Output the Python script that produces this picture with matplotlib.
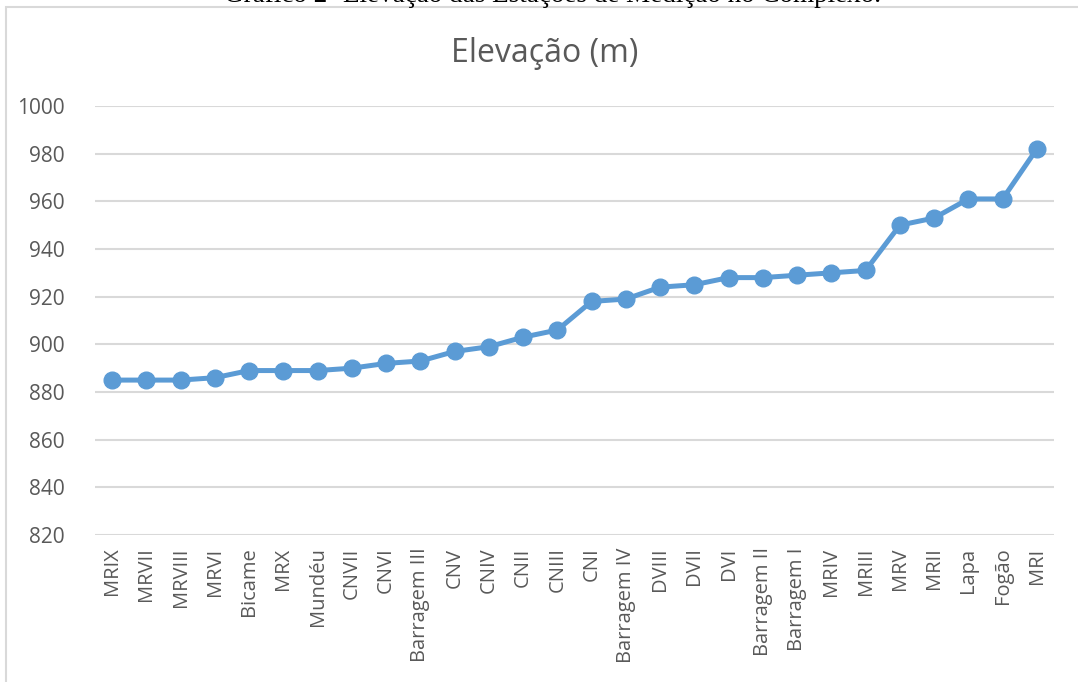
import numpy as np
import matplotlib.pyplot as plt
from matplotlib.patches import Rectangle

# Elevação das estações de medição
estacoes = ['MRIX', 'MRVII', 'MRVIII', 'MRVI', 'Bicame', 'MRX', 'Mundéu', 'CNVII',
            'CNVI', 'Barragem III', 'CNV', 'CNIV', 'CNII', 'CNIII', 'CNI',
            'Barragem IV', 'DVIII', 'DVII', 'DVI', 'Barragem II', 'Barragem I',
            'MRIV', 'MRIII', 'MRV', 'MRII', 'Lapa', 'Fogão', 'MRI']
elevacao = [885, 885, 885, 886, 889, 889, 889, 890, 892, 893, 897, 899, 903, 906,
            918, 919, 924, 925, 928, 928, 929, 930, 931, 950, 953, 961, 961, 982]
yticks = [820, 840, 860, 880, 900, 920, 940, 960, 980, 1000]

azul = '#5B9BD5'
cinza = '#D9D9D9'
texto = '#595959'

plt.rcParams['font.family'] = ['Open Sans', 'DejaVu Sans']

fig = plt.figure(figsize=(10.78, 6.82), dpi=100)
W, H = 1078, 682

# moldura do gráfico (continua além da borda direita e inferior)
fig.patches.append(Rectangle((6 / W, -0.1), 1.2, 1 - 7 / H + 0.1,
                             transform=fig.transFigure, fill=False,
                             edgecolor=cinza, lw=1.5))

# legenda do documento, cortada no topo
fig.text(552 / W, 1 + 5 / H, 'Gráfico 2- Elevação das Estações de Medição no Complexo.',
         ha='center', va='center', family='Liberation Serif', fontsize=19.5,
         color='black')

ax = fig.add_axes([95 / W, 1 - 535 / H, 959 / W, (535 - 106) / H])
x = np.arange(len(estacoes))
ax.plot(x, elevacao, color=azul, lw=3.6, marker='o', ms=12, zorder=3)

ax.set_xlim(-0.5, len(estacoes) - 0.5)
ax.set_ylim(820, 1000)
ax.set_yticks(yticks)
ax.set_xticks(x)
ax.set_xticklabels(estacoes, rotation=90, va='top', ha='center')
ax.tick_params(length=0, labelsize=14.5, colors=texto)
ax.tick_params(axis='y', pad=22, labelsize=15)
ax.tick_params(axis='x', pad=9)
ax.grid(axis='y', color=cinza, lw=1.5)
ax.set_axisbelow(True)
for s in ax.spines.values():
    s.set_visible(False)

fig.text(545 / W, 1 - 53 / H, 'Elevação (m)', ha='center', va='center',
         fontsize=23, color=texto)

fig.savefig('out.png', dpi=100)
